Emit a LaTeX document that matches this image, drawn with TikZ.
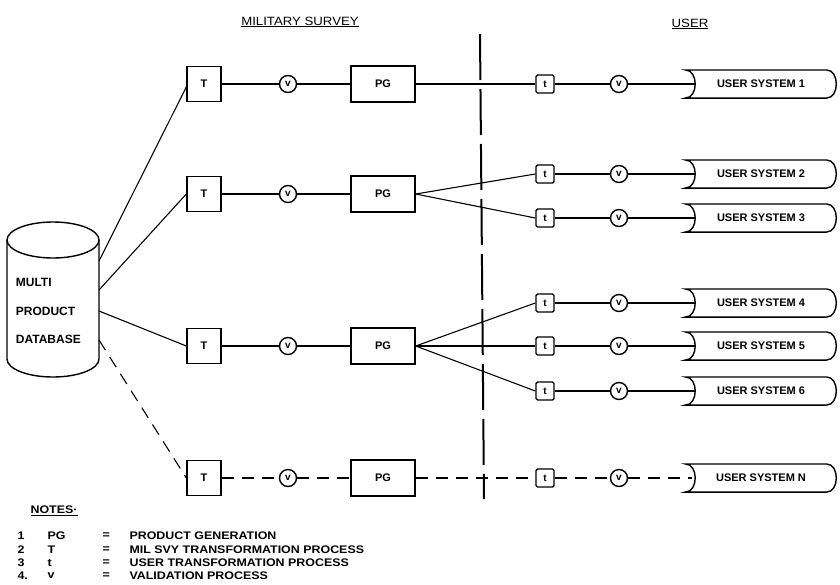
\documentclass[tikz,border=0pt]{standalone}
\usepackage{fontspec}
\setmainfont{Liberation Sans}
\newfontfamily\notefont[FakeStretch=1.13]{Liberation Sans}
\newfontfamily\headfont[FakeStretch=1.1]{Liberation Sans}
\usetikzlibrary{shapes.geometric}

\tikzset{
    bigbox/.style={draw, line width=1.4pt, minimum width=34pt, minimum height=35pt, inner sep=0pt,
                   font=\bfseries\fontsize{11}{13}\selectfont},
    pgbox/.style={bigbox, minimum width=64pt, minimum height=36pt},
    smallbox/.style={draw, line width=1.4pt, rounded corners=1.5pt, minimum size=18pt, inner sep=0pt,
                     font=\bfseries\fontsize{10}{11}\selectfont},
    valid/.style={draw, line width=1.4pt, circle, minimum size=17pt, inner sep=0pt,
                  font=\bfseries\fontsize{10}{11}\selectfont},
    usersys/.style={minimum width=130pt, minimum height=27pt, inner sep=0pt,
                    font=\bfseries\fontsize{11}{13}\selectfont},
    dashline/.style={dash pattern=on 12pt off 8pt},
    divider/.style={line width=2pt, dash pattern=on 46pt off 9pt},
    heading/.style={font=\headfont\fontsize{12}{14}\selectfont},
    note/.style={anchor=west, inner sep=0pt, font=\notefont\bfseries\fontsize{11}{12}\selectfont}
}

\begin{document}
\begin{tikzpicture}[x=1pt, y=-1pt, line width=1.1pt]
\useasboundingbox (0,0) rectangle (840,584);

% headings
\node[heading] (mil) at (300,22) {\underline{MILITARY SURVEY}};
\node[heading] (usr) at (690,24) {\underline{USER}};

% divider between survey and user side
\coordinate (divtop) at (480,34);
\coordinate (divbot) at (484,499);
\draw[divider] (divtop) -- (divbot);

% database
\draw[line width=1.4pt] (53,240) ellipse [x radius=46pt, y radius=18pt];
\draw[line width=1.4pt] (7,240) -- (7,359)
    arc[start angle=180, end angle=360, x radius=46pt, y radius=18pt] -- (99,240);
\node[anchor=west, align=left, font=\bfseries\fontsize{12}{28.5}\selectfont] (db) at (12,311)
    {MULTI\\PRODUCT\\DATABASE};
\coordinate (db1) at (99,261);
\coordinate (db2) at (99,290);
\coordinate (db3) at (99,311);
\coordinate (db4) at (99,340);

% military survey rows
\foreach \n/\y in {1/84, 2/194, 3/346, 4/478}
{
    \node[bigbox] (T\n) at (204,\y) {T};
    \node[valid] (v\n) at (288,\y) {v};
    \node[pgbox] (PG\n) at (383,\y) {PG};
}

% user rows
\foreach \n/\y/\lab in {1/84/1, 2/174/2, 3/218/3, 4/303/4, 5/346/5, 6/391/6, 7/478/N}
{
    \node[smallbox] (t\n) at (545,\y) {t};
    \node[valid] (uv\n) at (619,\y) {v};
    \node[usersys] (us\n) at (761,\y) {USER SYSTEM \lab};
    \draw[line width=1.4pt] ([xshift=-10pt]us\n.north west) .. controls +(13,0) and +(13,0) .. ([xshift=-10pt]us\n.south west)
        -- (us\n.south east) .. controls +(13,0) and +(13,0) .. (us\n.north east) -- cycle;
}

% connections
\draw (db1) -- ([yshift=-3pt]T1.west);
\draw (db2) -- (T2.west);
\draw (db3) -- (T3.west);
\draw[dashline] (db4) -- (T4.west);

\foreach \n in {1,2,3}
    \draw (T\n) -- (v\n) -- (PG\n);
\draw[dashline] (T4) -- (v4) -- (PG4);

\draw (PG1.east) -- (t1.west);
\foreach \n in {2,3}
    \draw (PG2.east) -- (t\n.west);
\foreach \n in {4,5,6}
    \draw (PG3.east) -- (t\n.west);
\draw[dashline] (PG4) -- (t7);

\foreach \n in {1,...,6}
    \draw (t\n) -- (uv\n) -- (us\n.west);
\draw[dashline] (t7) -- (uv7) -- ([xshift=-3pt]us7.west);

% notes
\node[note] (notes) at (30,511) {\underline{NOTES·}};
\foreach \i/\num/\y/\code/\txt in {1/1/536/PG/PRODUCT GENERATION,
                                   2/2/549.5/T/MIL SVY TRANSFORMATION PROCESS,
                                   3/3/563/t/USER TRANSFORMATION PROCESS,
                                   4/4./576/v/VALIDATION PROCESS}
{
    \node[note] (num\i) at (17,\y) {\num};
    \node[note] (code\i) at (47,\y) {\code};
    \node[note] (eq\i) at (102,\y) {=};
    \node[note] (txt\i) at (129,\y) {\txt};
}

\end{tikzpicture}
\end{document}
